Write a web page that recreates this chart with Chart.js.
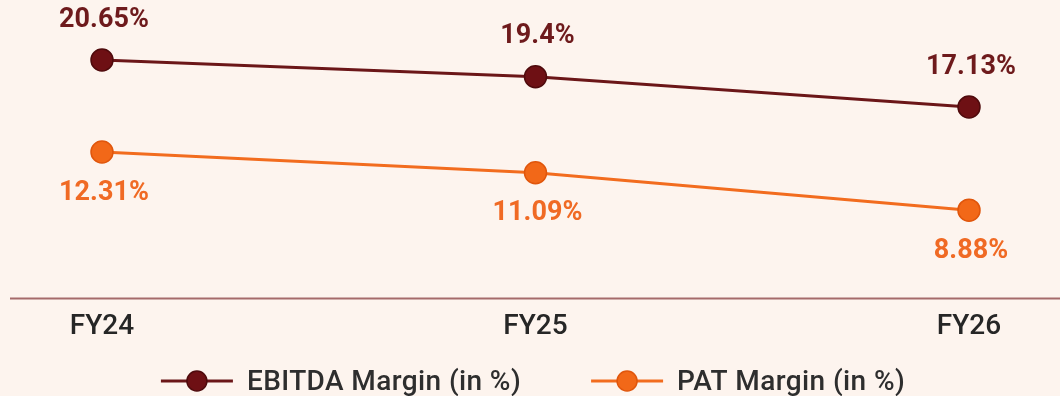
<!DOCTYPE html>
<html>
<head>
<meta charset="utf-8">
<script src="https://cdn.jsdelivr.net/npm/chart.js@4/dist/chart.umd.min.js"></script>
<style>
html,body{margin:0;padding:0;background:#fdf4ee;}
#wrap{width:1060px;height:396px;}
</style>
</head>
<body>
<div id="wrap"><canvas id="c" width="1060" height="396"></canvas></div>
<script>
const categories = ["FY24", "FY25", "FY26"];
const ebitdaMargin = [20.65, 19.4, 17.13];
const patMargin = [12.31, 11.09, 8.88];
const seriesNames = ["EBITDA Margin (in %)", "PAT Margin (in %)"];

const EBITDA_COLOR = '#6b1618';
const PAT_COLOR = '#f26c1e';
const FONT = 'Roboto, "Open Sans", sans-serif';

const baseLine = {
  id: 'baseLine',
  beforeDatasetsDraw(chart) {
    const {ctx, chartArea} = chart;
    ctx.save();
    ctx.strokeStyle = '#a56a6a';
    ctx.lineWidth = 2;
    ctx.beginPath();
    ctx.moveTo(10, chartArea.bottom);
    ctx.lineTo(chart.width, chartArea.bottom);
    ctx.stroke();
    ctx.restore();
  }
};

const dataLabels = {
  id: 'dataLabels',
  afterDatasetsDraw(chart) {
    const {ctx} = chart;
    ctx.save();
    ctx.font = 'bold 27px ' + FONT;
    ctx.textAlign = 'center';
    ctx.textBaseline = 'middle';
    chart.data.datasets.forEach((ds, di) => {
      const meta = chart.getDatasetMeta(di);
      meta.data.forEach((pt, i) => {
        const v = ds.data[i];
        const txt = v + '%';
        ctx.fillStyle = ds.labelColor;
        const dy = di === 0 ? -40 : 41;
        ctx.fillText(txt, pt.x + 2, pt.y + dy);
      });
    });
    ctx.restore();
  }
};

const customLegend = {
  id: 'customLegend',
  afterDraw(chart) {
    const {ctx} = chart;
    ctx.save();
    ctx.font = '500 28px ' + FONT;
    try { ctx.letterSpacing = '0.4px'; } catch (e) {}
    ctx.textBaseline = 'middle';
    const symW = 72, textGap = 14, itemGap = 70;
    const items = chart.data.datasets.map(ds => ({
      text: ds.label, color: ds.borderColor, fill: ds.pointBackgroundColor, border: ds.pointBorderColor,
      w: symW + textGap + ctx.measureText(ds.label).width
    }));
    const total = items.reduce((s, it) => s + it.w, 0) + itemGap * (items.length - 1);
    let x = (chart.width - total) / 2 + 3;
    const y = 381;
    items.forEach(it => {
      ctx.strokeStyle = it.color;
      ctx.lineWidth = 3;
      ctx.beginPath();
      ctx.moveTo(x, y);
      ctx.lineTo(x + symW, y);
      ctx.stroke();
      ctx.beginPath();
      ctx.arc(x + symW / 2, y, 10, 0, Math.PI * 2);
      ctx.fillStyle = it.fill;
      ctx.fill();
      ctx.lineWidth = 1.5;
      ctx.strokeStyle = it.border;
      ctx.stroke();
      ctx.fillStyle = '#2e2e2e';
      ctx.fillText(it.text, x + symW + textGap, y + 2);
      x += it.w + itemGap;
    });
    ctx.restore();
  }
};

new Chart(document.getElementById('c'), {
  type: 'line',
  data: {
    labels: categories,
    datasets: [
      {
        label: seriesNames[0],
        data: ebitdaMargin,
        yAxisID: 'yE',
        borderColor: EBITDA_COLOR,
        borderWidth: 3,
        pointRadius: 11,
        pointHoverRadius: 11,
        pointBackgroundColor: '#6e1014',
        pointBorderColor: '#4f0a0c',
        pointBorderWidth: 1.5,
        labelColor: '#6e1a1c',
        tension: 0
      },
      {
        label: seriesNames[1],
        data: patMargin,
        yAxisID: 'yP',
        borderColor: PAT_COLOR,
        borderWidth: 3,
        pointRadius: 11,
        pointHoverRadius: 11,
        pointBackgroundColor: '#f26818',
        pointBorderColor: '#e0560c',
        pointBorderWidth: 1.5,
        labelColor: '#f06a24',
        tension: 0
      }
    ]
  },
  options: {
    responsive: false,
    animation: false,
    layout: { padding: { left: 102, right: 91, top: 0, bottom: 40 } },
    plugins: { legend: { display: false }, tooltip: { enabled: false } },
    scales: {
      x: {
        offset: false,
        grid: { display: false, drawTicks: false },
        border: { display: false },
        ticks: { color: '#262626', font: { family: FONT, size: 28, weight: '500' }, padding: 12, maxRotation: 0 }
      },
      yE: { display: false, min: 2.82, max: 24.2 },
      yP: { display: false, min: 3.67, max: 20.55 }
    }
  },
  plugins: [baseLine, dataLabels, customLegend]
});
</script>
</body>
</html>
